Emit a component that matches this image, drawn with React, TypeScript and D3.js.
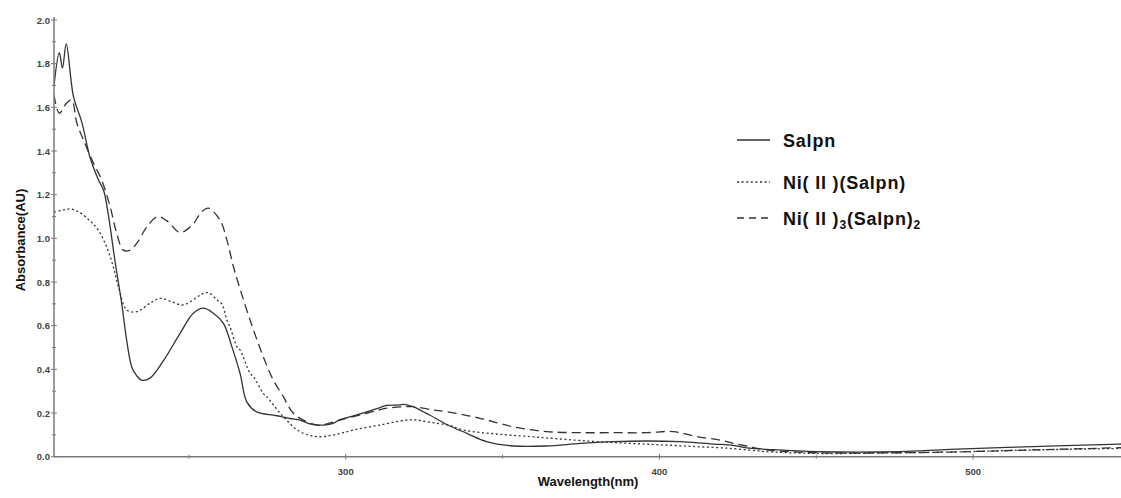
import React from "react";
import * as d3 from "d3";

// ---- Data (wavelength nm, absorbance AU) ----
const salpnWl = [207.0, 208.7, 209.7, 210.9, 213.2, 215.9, 218.5, 221.1, 222.8, 224.3, 226.5, 228.6, 230.2, 231.8, 233.4, 235.0, 237.6, 241.9, 247.2, 251.4, 254.6, 257.8, 261.0, 263.7, 266.3, 268.5, 271.6, 276.9, 279.1, 282.3, 285.4, 288.6, 290.8, 293.0, 296.0, 298.2, 303.5, 306.7, 310.9, 313.1, 317.3, 318.4, 321.5, 324.7, 326.9, 332.5, 338.6, 344.9, 353.4, 364.1, 374.7, 385.3, 395.9, 406.5, 417.1, 423.5, 427.8, 434.2, 450.1, 476.6, 492.6, 519.0, 546.7, 552];
const salpnAbs = [1.70, 1.85, 1.78, 1.89, 1.65, 1.53, 1.37, 1.27, 1.22, 1.11, 0.89, 0.70, 0.53, 0.41, 0.37, 0.35, 0.36, 0.44, 0.565, 0.657, 0.68, 0.657, 0.611, 0.504, 0.382, 0.25, 0.205, 0.19, 0.185, 0.175, 0.168, 0.15, 0.145, 0.145, 0.153, 0.17, 0.191, 0.205, 0.225, 0.235, 0.237, 0.24, 0.229, 0.206, 0.19, 0.145, 0.107, 0.069, 0.049, 0.049, 0.061, 0.069, 0.072, 0.069, 0.058, 0.052, 0.04, 0.034, 0.023, 0.023, 0.034, 0.046, 0.058, 0.06];

const niWl = [207.0, 210.0, 212.1, 215.0, 218.5, 221.0, 223.8, 225.9, 227.5, 230.2, 233.4, 237.6, 240.8, 244.5, 248.2, 253.6, 255.2, 256.7, 258.9, 260.5, 262.1, 263.1, 265.3, 266.3, 269.5, 270.6, 273.7, 274.8, 280.1, 285.4, 290.8, 296.0, 302.4, 310.9, 319.4, 322.6, 327.0, 332.7, 337.5, 348.1, 358.7, 369.3, 380.0, 390.6, 401.2, 411.9, 422.5, 431.0, 434.2, 450.1, 476.6, 497.9, 519.0, 546.7, 552];
const niAbs = [1.12, 1.13, 1.135, 1.12, 1.08, 1.04, 0.96, 0.87, 0.78, 0.672, 0.664, 0.703, 0.725, 0.71, 0.695, 0.74, 0.751, 0.748, 0.718, 0.70, 0.626, 0.595, 0.504, 0.489, 0.382, 0.366, 0.29, 0.275, 0.183, 0.115, 0.092, 0.099, 0.122, 0.145, 0.168, 0.168, 0.157, 0.145, 0.122, 0.104, 0.092, 0.08, 0.069, 0.061, 0.054, 0.046, 0.038, 0.027, 0.023, 0.015, 0.018, 0.023, 0.031, 0.038, 0.04];

const ni3Wl = [207.0, 208.7, 210.9, 212.6, 214.3, 216.4, 219.6, 222.2, 224.9, 227.0, 229.1, 231.3, 233.5, 236.5, 240.0, 243.0, 247.2, 251.0, 254.0, 256.2, 259.9, 262.1, 264.2, 267.4, 270.6, 273.7, 276.9, 280.1, 283.3, 287.6, 291.8, 298.2, 306.7, 313.1, 319.4, 321.5, 327.9, 332.2, 342.8, 353.4, 364.1, 374.7, 385.3, 395.9, 404.4, 411.9, 419.3, 423.5, 427.8, 434.2, 450.1, 476.6, 497.9, 519.0, 546.7, 552];
const ni3Abs = [1.656, 1.573, 1.618, 1.634, 1.527, 1.45, 1.344, 1.267, 1.145, 1.023, 0.946, 0.946, 0.98, 1.05, 1.099, 1.08, 1.027, 1.06, 1.12, 1.138, 1.084, 0.993, 0.87, 0.718, 0.58, 0.458, 0.351, 0.275, 0.199, 0.16, 0.145, 0.168, 0.199, 0.222, 0.229, 0.229, 0.214, 0.206, 0.176, 0.137, 0.115, 0.11, 0.11, 0.11, 0.115, 0.092, 0.076, 0.061, 0.049, 0.031, 0.018, 0.018, 0.023, 0.031, 0.041, 0.043];

const xMajorTicks = [300, 400, 500];
const xMinorTicks = [250, 350, 450, 550];
const yMajorTicks = [0, 0.2, 0.4, 0.6, 0.8, 1.0, 1.2, 1.4, 1.6, 1.8, 2.0];
const yMinorTicks = [0.1, 0.3, 0.5, 0.7, 0.9, 1.1, 1.3, 1.5, 1.7, 1.9];

const seriesNames = ["Salpn", "Ni(II)(Salpn)", "Ni(II)3(Salpn)2"];

const W = 1121;
const H = 498;
const plotLeft = 54;
const plotRight = 1130;
const plotTop = 20;
const plotBottom = 456.7;

export default function App() {
  const x = d3.scaleLinear().domain([207, 550]).range([plotLeft, plotRight]);
  const y = d3.scaleLinear().domain([0, 2]).range([plotBottom, plotTop]);

  const mk = (wl: number[], ab: number[]) =>
    d3
      .line<number>()
      .x((_, i) => x(wl[i]))
      .y((_, i) => y(ab[i]))
      .curve(d3.curveCatmullRom.alpha(0.5))(wl) as string;

  const series = [
    { name: seriesNames[0], d: mk(salpnWl, salpnAbs), dash: undefined as string | undefined },
    { name: seriesNames[1], d: mk(niWl, niAbs), dash: "2,2.6" },
    { name: seriesNames[2], d: mk(ni3Wl, ni3Abs), dash: "9,5" },
  ];

  const lineColor = "#333";
  const axisColor = "#7a7a7a";
  const font = "'Liberation Sans', Arial, sans-serif";

  const legendY = [140, 182, 218];

  return (
    <svg
      width={W}
      height={H}
      style={{ position: "absolute", left: 0, top: 0, background: "#fff" }}
      fontFamily={font}
    >
      <defs>
        <clipPath id="plotClip">
          <rect x={plotLeft} y={0} width={W - plotLeft} height={plotBottom} />
        </clipPath>
      </defs>

      {/* series */}
      <g clipPath="url(#plotClip)">
        {series.map((s) => (
          <path
            key={s.name}
            d={s.d}
            fill="none"
            stroke={lineColor}
            strokeWidth={1.3}
            strokeDasharray={s.dash}
          />
        ))}
      </g>

      {/* y axis */}
      <line x1={x(207)} x2={x(207)} y1={plotTop - 3} y2={plotBottom} stroke={axisColor} strokeWidth={1.5} />
      {yMajorTicks.map((t) => (
        <g key={"ym" + t}>
          <line x1={x(207) - 3} x2={x(207) + 3} y1={y(t)} y2={y(t)} stroke={axisColor} strokeWidth={1} />
          <text x={x(207) - 4} y={y(t) + 3.5} textAnchor="end" fontSize={9.5} fill="#444" fontWeight="bold">
            {t.toFixed(1)}
          </text>
        </g>
      ))}
      {yMinorTicks.map((t) => (
        <line key={"yn" + t} x1={x(207) - 2} x2={x(207) + 2} y1={y(t)} y2={y(t)} stroke={axisColor} strokeWidth={1} />
      ))}

      {/* x axis */}
      <line x1={x(207)} x2={W} y1={plotBottom} y2={plotBottom} stroke={axisColor} strokeWidth={1.5} />
      {xMajorTicks.map((t) => (
        <g key={"xm" + t}>
          <line x1={x(t)} x2={x(t)} y1={plotBottom - 3} y2={plotBottom + 3} stroke={axisColor} strokeWidth={1} />
          <text x={x(t)} y={plotBottom + 18} textAnchor="middle" fontSize={9.5} fill="#444" fontWeight="bold">
            {t}
          </text>
        </g>
      ))}
      {xMinorTicks.map((t) => (
        <line key={"xn" + t} x1={x(t)} x2={x(t)} y1={plotBottom - 2} y2={plotBottom + 2} stroke={axisColor} strokeWidth={1} />
      ))}

      {/* axis titles */}
      <text x={588} y={486} textAnchor="middle" fontSize={13} fontWeight="bold" fill="#111">
        Wavelength(nm)
      </text>
      <text
        transform={`translate(25,240) rotate(-90)`}
        textAnchor="middle"
        fontSize={13}
        fontWeight="bold"
        fill="#111"
      >
        Absorbance(AU)
      </text>

      {/* legend */}
      <g fontWeight="bold" fontSize={18} fill="#111" letterSpacing={0.8}>
        <line x1={737} x2={770} y1={legendY[0]} y2={legendY[0]} stroke={lineColor} strokeWidth={1.3} />
        <text x={783} y={legendY[0] + 6.5}>Salpn</text>

        <line x1={737} x2={770} y1={legendY[1]} y2={legendY[1]} stroke={lineColor} strokeWidth={1.3} strokeDasharray="2,2.6" />
        <text x={783} y={legendY[1] + 6.5}>Ni( II )(Salpn)</text>

        <line x1={737} x2={770} y1={legendY[2]} y2={legendY[2]} stroke={lineColor} strokeWidth={1.3} strokeDasharray="7,5" />
        <text x={783} y={legendY[2] + 6.5}>
          Ni( II )
          <tspan fontSize={12} dy={4}>3</tspan>
          <tspan dy={-4}>(Salpn)</tspan>
          <tspan fontSize={12} dy={4}>2</tspan>
        </text>
      </g>
    </svg>
  );
}
